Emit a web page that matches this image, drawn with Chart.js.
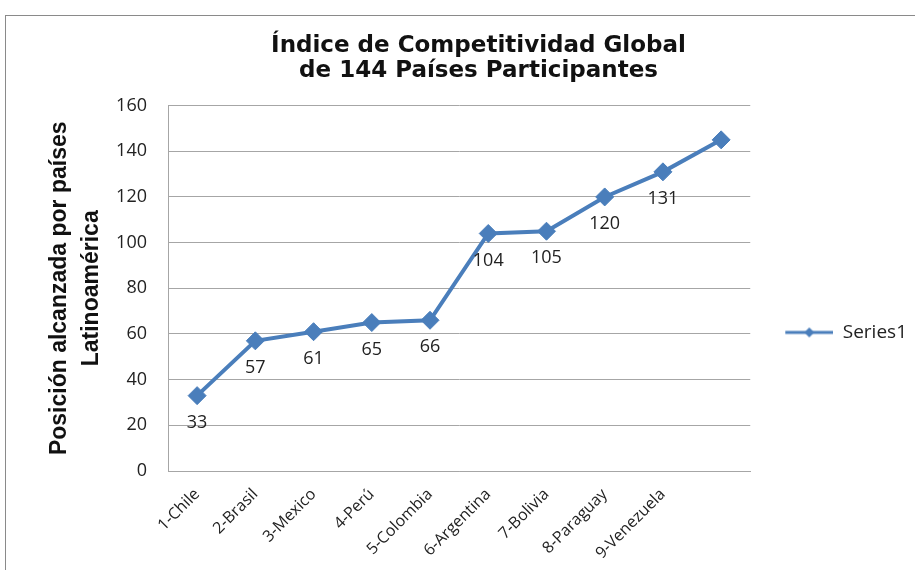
<!DOCTYPE html>
<html>
<head>
<meta charset="utf-8">
<script src="https://cdn.jsdelivr.net/npm/chart.js@4.4.1/dist/chart.umd.min.js"></script>
<style>
  html, body { margin: 0; padding: 0; background: #fff; }
  body { width: 915px; height: 570px; overflow: hidden; position: relative; }
  #frame {
    position: absolute; left: 5px; top: 15px; width: 950px; height: 600px;
    border-left: 1px solid #8a8a8a; border-top: 1px solid #8a8a8a;
  }
  #wrap { position: absolute; left: 6px; top: 16px; width: 909px; height: 554px; }
</style>
</head>
<body>
<div id="frame"></div>
<div id="wrap"><canvas id="chart"></canvas></div>
<script>
// categories (the last point has no label in the original)
const categories = [
  "1-Chile", "2-Brasil", "3-Mexico", "4-Perú", "5-Colombia",
  "6-Argentina", "7-Bolivia", "8-Paraguay", "9-Venezuela", ""
];
// ranking positions
const positions = [33, 57, 61, 65, 66, 104, 105, 120, 131, 145];
// data labels printed under each point
const pointLabels = ["33", "57", "61", "65", "66", "104", "105", "120", "131", ""];
const seriesName = "Series1";

const blue = "#4a7ebb";
const gridGray = "#a6a6a6";
const calibriLike = "'Open Sans', 'Noto Sans', sans-serif";

// legend swatch: short line with a small diamond (left part left blank for spacing)
function legendSwatch() {
  const c = document.createElement("canvas");
  c.width = 80; c.height = 14;
  const g = c.getContext("2d");
  g.strokeStyle = blue; g.lineWidth = 3;
  g.beginPath(); g.moveTo(32, 7); g.lineTo(80, 7); g.stroke();
  g.fillStyle = blue;
  g.beginPath(); g.moveTo(56, 2); g.lineTo(61, 7); g.lineTo(56, 12); g.lineTo(51, 7); g.closePath(); g.fill();
  return c;
}

// value labels below the points
const pointLabelPlugin = {
  id: "pointLabels",
  afterDatasetsDraw(chart) {
    const ctx = chart.ctx;
    const meta = chart.getDatasetMeta(0);
    ctx.save();
    ctx.font = "18px " + calibriLike;
    ctx.fillStyle = "#222";
    ctx.textAlign = "center";
    ctx.textBaseline = "middle";
    meta.data.forEach((pt, i) => {
      if (pointLabels[i]) ctx.fillText(pointLabels[i], pt.x, pt.y + 27);
    });
    ctx.restore();
  }
};

new Chart(document.getElementById("chart"), {
  type: "line",
  data: {
    labels: categories,
    datasets: [{
      label: seriesName,
      data: positions,
      borderColor: blue,
      backgroundColor: blue,
      borderWidth: 4,
      pointStyle: "rectRot",
      pointRadius: 9,
      pointBorderWidth: 1,
      pointBackgroundColor: blue,
      pointBorderColor: blue,
      tension: 0
    }]
  },
  options: {
    responsive: true,
    maintainAspectRatio: false,
    animation: false,
    layout: { padding: { left: 34, right: -2, top: 6, bottom: 0 } },
    plugins: {
      title: {
        display: true,
        text: ["Índice de Competitividad Global", "de 144 Países Participantes"],
        color: "#111",
        font: { family: "'DejaVu Sans', sans-serif", size: 23, weight: "bold", lineHeight: 1.1 },
        padding: { top: 11, bottom: 22 }
      },
      legend: {
        position: "right",
        title: { display: true, text: "", padding: { top: 68, bottom: 0 }, font: { size: 4 } },
        labels: {
          usePointStyle: true,
          pointStyle: legendSwatch(),
          pointStyleWidth: 80,
          color: "#222",
          font: { family: calibriLike, size: 19 },
          padding: 3
        }
      },
      tooltip: { enabled: false }
    },
    scales: {
      x: {
        offset: true,
        afterFit(scale) { scale.height = 99; },
        grid: { display: false, drawTicks: false },
        border: { color: gridGray, width: 1 },
        ticks: {
          color: "#222",
          font: { family: calibriLike, size: 16 },
          minRotation: 45,
          maxRotation: 45,
          autoSkip: false,
          padding: 14
        }
      },
      y: {
        min: 0,
        max: 160,
        afterFit(scale) { scale.width = 128; },
        ticks: { stepSize: 20, color: "#222", font: { family: calibriLike, size: 18 }, padding: 21 },
        grid: { color: gridGray, lineWidth: 1, drawTicks: false },
        border: { color: gridGray, width: 1 },
        title: {
          display: true,
          text: ["Posición alcanzada por países", "Latinoamérica"],
          color: "#111",
          font: { family: "'Liberation Sans', Arial, sans-serif", size: 23, weight: "bold", lineHeight: 1.39 },
          padding: { top: 4, bottom: 4 }
        }
      }
    }
  },
  plugins: [pointLabelPlugin]
});
</script>
</body>
</html>
